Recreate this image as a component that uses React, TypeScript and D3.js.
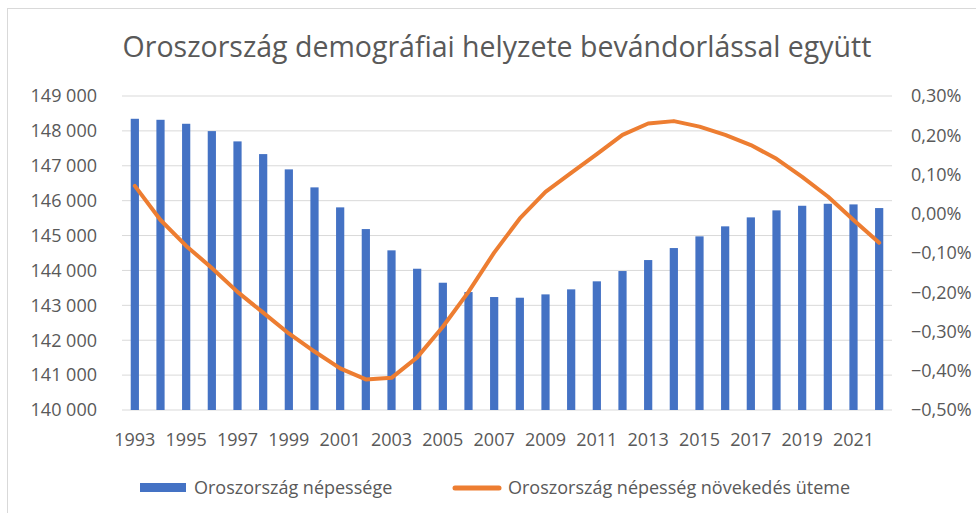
import * as d3 from 'd3'

const years = d3.range(1993, 2023).map(String)

// population, thousand people
const population = [
  148347, 148318, 148204, 147994, 147699, 147335, 146897, 146381, 145808, 145186,
  144576, 144049, 143648, 143381, 143238, 143218, 143314, 143458, 143688, 143983,
  144298, 144642, 144977, 145264, 145521, 145722, 145854, 145911, 145893, 145788,
]

// growth rate, percent
const growth = [
  0.071, -0.016, -0.082, -0.138, -0.199, -0.252, -0.305, -0.351, -0.394, -0.422,
  -0.418, -0.366, -0.288, -0.199, -0.099, -0.012, 0.056, 0.104, 0.152, 0.201,
  0.23, 0.236, 0.222, 0.201, 0.175, 0.14, 0.094, 0.044, -0.016, -0.074,
]

const leftTicks = d3.range(140000, 149001, 1000)
const rightTicks = d3.range(-5, 4).map(d => d / 10)

const title = 'Oroszország demográfiai helyzete bevándorlással együtt'
const barName = 'Oroszország népessége'
const lineName = 'Oroszország népesség növekedés üteme'

const W = 976
const H = 513
const FONT = "'Open Sans', sans-serif"
const TXT = '#595959'

const App = () => {
  const x = d3.scaleBand().domain(years).range([122, 892]).paddingInner(0.68).paddingOuter(0.34)
  const band = d3.scaleBand().domain(years).range([122, 892])
  const yL = d3.scaleLinear().domain([140000, 149000]).range([410, 96])
  const yR = d3.scaleLinear().domain([-0.5, 0.3]).range([410, 96])

  const line = d3
    .line<number>()
    .x((_, i) => (band(years[i]) ?? 0) + band.bandwidth() / 2)
    .y(d => yR(d))

  const fmtL = (v: number) => d3.format(',')(v).replace(',', ' ')
  const fmtR = (v: number) => d3.format('.2f')(v).replace('.', ',').replace('-0,00', '0,00') + '%'

  return (
    <svg
      width={W}
      height={H}
      style={{ position: 'absolute', left: 0, top: 0, background: '#fff' }}
      fontFamily={FONT}
    >
      <rect x={7.5} y={8.5} width={W + 10} height={H + 10} fill="#fff" stroke="#d9d9d9" />
      <text x={497} y={57} textAnchor="middle" fontSize={28.5} fill={TXT}>
        {title}
      </text>

      {leftTicks.map(t => (
        <line key={t} x1={122} x2={892} y1={yL(t)} y2={yL(t)} stroke="#d9d9d9" strokeWidth={1} />
      ))}

      {population.map((v, i) => (
        <rect
          key={years[i]}
          x={x(years[i])}
          width={x.bandwidth()}
          y={yL(v)}
          height={410 - yL(v)}
          fill="#4472c4"
        />
      ))}

      <path
        d={line(growth) ?? ''}
        fill="none"
        stroke="#ed7d31"
        strokeWidth={4}
        strokeLinejoin="round"
        strokeLinecap="round"
      />

      {leftTicks.map(t => (
        <text key={t} x={97} y={yL(t)} dy="0.35em" textAnchor="end" fontSize={18} fill={TXT}>
          {fmtL(t)}
        </text>
      ))}
      {rightTicks.map(t => (
        <text key={t} x={911} y={yR(t)} dy="0.35em" textAnchor="start" fontSize={18} fill={TXT}>
          {fmtR(t)}
        </text>
      ))}
      {years.map((yr, i) =>
        i % 2 === 0 ? (
          <text
            key={yr}
            x={(band(yr) ?? 0) + band.bandwidth() / 2}
            y={440}
            dy="0.35em"
            textAnchor="middle"
            fontSize={18}
            fill={TXT}
          >
            {yr}
          </text>
        ) : null
      )}

      <rect x={140} y={483} width={46} height={9} fill="#4472c4" />
      <text x={194} y={488} dy="0.35em" fontSize={18} fill={TXT}>
        {barName}
      </text>
      <line x1={455} x2={499} y1={488} y2={488} stroke="#ed7d31" strokeWidth={5} strokeLinecap="round" />
      <text x={508} y={488} dy="0.35em" fontSize={18} fill={TXT}>
        {lineName}
      </text>
    </svg>
  )
}

export default App
